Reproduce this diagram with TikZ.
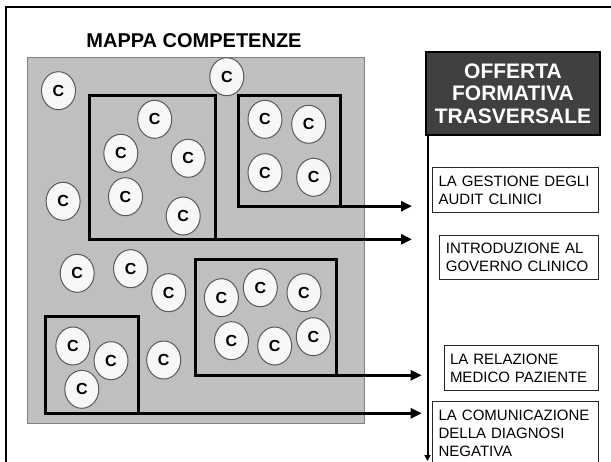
\documentclass[tikz,border=0pt]{standalone}
\usepackage{fontspec}
\setmainfont{Liberation Sans}
\usetikzlibrary{arrows.meta,shapes.geometric}
\tikzset{every picture/.style={line width=1pt}}

\begin{document}
\begin{tikzpicture}[x=1pt,y=-1pt,
  comp/.style={ellipse,draw=black!65,fill=black!3,minimum width=34pt,minimum height=38pt,
    inner sep=0pt,font=\fontsize{16}{16}\selectfont\bfseries},
  grp/.style={draw,line width=3pt,anchor=north west,outer sep=0pt,inner sep=0pt},
  flow/.style={line width=3pt,-{Triangle[length=11pt,width=10pt]}},
  course/.style={draw=black!85,fill=white,anchor=north west,align=left,outer sep=0pt,
    inner xsep=6pt,inner ysep=0pt,font=\fontsize{15}{18}\selectfont}]
\useasboundingbox (0,0) rectangle (611,461);
% frame and competence map
\draw[line width=2.2pt] (616,6.7) -- (6,6.7) -- (6,466);
\node[font=\fontsize{20}{20}\selectfont\bfseries] (title) at (194,41) {MAPPA COMPETENZE};
\filldraw[fill=black!25,draw=black!50] (27.3,57) rectangle (364,423);
% groups of competences
\node[grp,minimum width=125.4pt,minimum height=143.6pt] (g1) at (89.6,95.7) {};
\node[grp,minimum width=101.7pt,minimum height=110.5pt] (g2) at (238.8,95.7) {};
\node[grp,minimum width=141pt,minimum height=116.3pt] (g3) at (195,259) {};
\node[grp,minimum width=92.8pt,minimum height=97pt] (g4) at (45.5,316.3) {};
\foreach \cx/\cy [count=\i] in {58.5/90.7, 226.8/76.7, 154.7/119.3, 120.8/153.3, 188.2/158.3,
  125.5/196.7, 183.2/216, 63.1/201.3, 265/119.3, 308.7/124.3, 265/172.7, 313.7/177.3,
  77.2/273.3, 130.6/268.7, 168.7/292.7, 221.4/297.7, 260.3/287.7, 304/292.7,
  231.5/340.7, 274.7/346, 313.3/336.7, 72.9/346, 111/360.7, 81.8/389.3, 163.7/360}
  \node[comp] (c\i) at (\cx,\cy) {C};
% training offer
\node[draw,line width=2pt,fill=black!75,text=white,anchor=north west,outer sep=0pt,
  minimum width=174pt,minimum height=83pt,align=center,
  font=\fontsize{21}{22.5}\selectfont\bfseries] (hdr) at (426,52)
  {OFFERTA\\FORMATIVA\\TRASVERSALE};
\coordinate (vend) at (427.5,461);
\draw[line width=2pt,-{Triangle[length=6pt,width=6pt]}] ([xshift=1.5pt]hdr.south west) -- (vend);
\node[course,text width=153.6pt,minimum height=44.6pt] (k1) at (432.6,167.7)
  {LA GESTIONE DEGLI\\AUDIT CLINICI};
\node[course,text width=146pt,inner xsep=6.3pt,minimum height=43.6pt] (k2) at (439.6,235.7)
  {INTRODUZIONE AL\\GOVERNO CLINICO};
\node[course,text width=142.5pt,inner xsep=5.7pt,minimum height=44.3pt] (k3) at (444.3,345.7)
  {LA RELAZIONE\\MEDICO PAZIENTE};
\node[course,text width=153.6pt,minimum height=63.2pt] (k4) at (432.6,401.7)
  {LA COMUNICAZIONE\\DELLA DIAGNOSI\\NEGATIVA};
% arrows from the groups
\coordinate (in1) at (412,239.3);
\coordinate (in2) at (412,206.2);
\coordinate (in3) at (421.7,375.3);
\coordinate (in4) at (421.7,413.3);
\draw[flow] (g2.south east) -- (g2.south east -| in2);
\draw[flow] (g1.south east) -- (g1.south east -| in1);
\draw[flow] (g3.south east) -- (g3.south east -| in3);
\draw[flow] (g4.south east) -- (g4.south east -| in4);
\end{tikzpicture}
\end{document}
